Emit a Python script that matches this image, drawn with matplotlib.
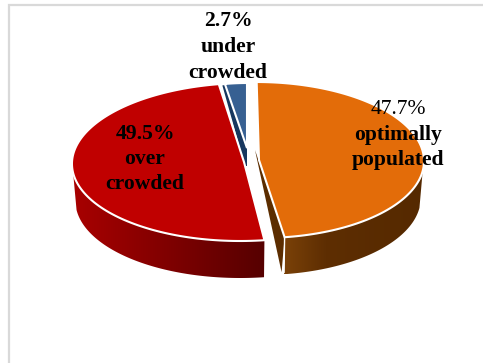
import numpy as np
import matplotlib
matplotlib.use("Agg")
import matplotlib.pyplot as plt
from matplotlib.colors import LinearSegmentedColormap
from matplotlib.patches import Polygon

shares = [47.7, 49.5, 2.7]
names = [["optimally", "populated"], ["over", "crowded"], ["under", "crowded"]]
top_colors = ["#e36c09", "#c00000", "#376092"]

# centre x, centre y, radius x, radius y, shear of each exploded slice
geometry = [(259, 160, 165, 78, 0.03), (244, 162, 172, 79, -0.049), (247, 148, 131, 65, 0.0)]
depth = 37

plt.rcParams["font.family"] = ["Liberation Serif", "DejaVu Serif"]

fig = plt.figure(figsize=(4.83, 3.63), dpi=100)
ax = fig.add_axes([0, 0, 1, 1])
ax.set_xlim(0, 483)
ax.set_ylim(363, 0)
ax.axis("off")

# light frame around the chart area
ax.plot([8.5, 8.5, 483], [363, 5, 5], color="#d9d9d9", lw=1.6, solid_joinstyle="miter")


def arc(geo, a0, a1, n=120):
    # angles run clockwise from twelve o'clock, in degrees
    cx, cy, rx, ry, shear = geo
    t = np.radians(np.linspace(a0, a1, n))
    dy = -ry * np.cos(t)
    return np.column_stack([cx + rx * np.sin(t) + shear * dy, cy + dy])


def wall(geo, a0, a1, stops):
    # outer side of a slice, shaded from left to right; the lower rim is a bit narrower
    top = arc(geo, a0, a1)
    low = top[::-1] + [0, depth]
    low[:, 0] = geo[0] + (low[:, 0] - geo[0]) * 0.98
    points = np.vstack([top, low])
    cmap = LinearSegmentedColormap.from_list("wall", stops)
    x0, x1 = points[:, 0].min(), points[:, 0].max()
    y0, y1 = points[:, 1].min(), points[:, 1].max()
    im = ax.imshow(np.linspace(0, 1, 256)[None, :], cmap=cmap, aspect="auto",
                   extent=[x0, x1, y1, y0], zorder=2)
    im.set_clip_path(Polygon(points, transform=ax.transData))
    return top


ends = np.cumsum(shares) / sum(shares) * 360
starts = np.concatenate([[0], ends[:-1]])

# orange slice: cut face, then outer wall
geo = geometry[0]
top = wall(geo, 98, ends[0], [(0, "#7a4108"), (0.3, "#5e2e02"), (1, "#552900")])
corner = top[-1]
ax.add_patch(Polygon([(255, 150), corner, corner + [-3, depth - 2]],
                     fc="#5c2d00", ec="none", zorder=2))
ax.plot([corner[0], corner[0] - 0.5], [corner[1], corner[1] + depth - 2], color="white", lw=1, zorder=3)

# red slice wall
geo = geometry[1]
wall(geo, starts[1], 262, [(0, "#a80000"), (1, "#560000")])

# navy face next to the small slice
geo = geometry[2]
outer = arc(geo, starts[2], ends[2])
ax.add_patch(Polygon([outer[0] + [-2.5, 1.5], outer[0] + [1, 1], (geo[0], geo[1] + 1),
                      (geo[0], geo[1] + 18), (geo[0] - 2, geo[1] + 18)],
                     fc="#17375e", ec="none", zorder=3))

# top surfaces
for start, end, col, g in zip(starts, ends, top_colors, geometry):
    pts = np.vstack([[g[0], g[1]], arc(g, start, end)])
    ax.add_patch(Polygon(pts, closed=True, fc=col, ec="white", lw=1.5, zorder=4,
                         joinstyle="miter"))

# labels
label_pos = [(398, [110, 135, 160]), (145, [134, 159, 184]), (228, [21, 47, 73])]
for share, words, (x, ys), weight in zip(shares, names, label_pos, ["normal", "bold", "bold"]):
    ax.text(x, ys[0], f"{share}%", ha="center", va="center", fontsize=15.6,
            fontweight=weight, color="black", zorder=6)
    for word, y in zip(words, ys[1:]):
        ax.text(x, y, word, ha="center", va="center", fontsize=15.6,
                fontweight="bold", color="black", zorder=6)

ax.set_xlim(0, 483)
ax.set_ylim(363, 0)
fig.savefig("out.png", dpi=100)
